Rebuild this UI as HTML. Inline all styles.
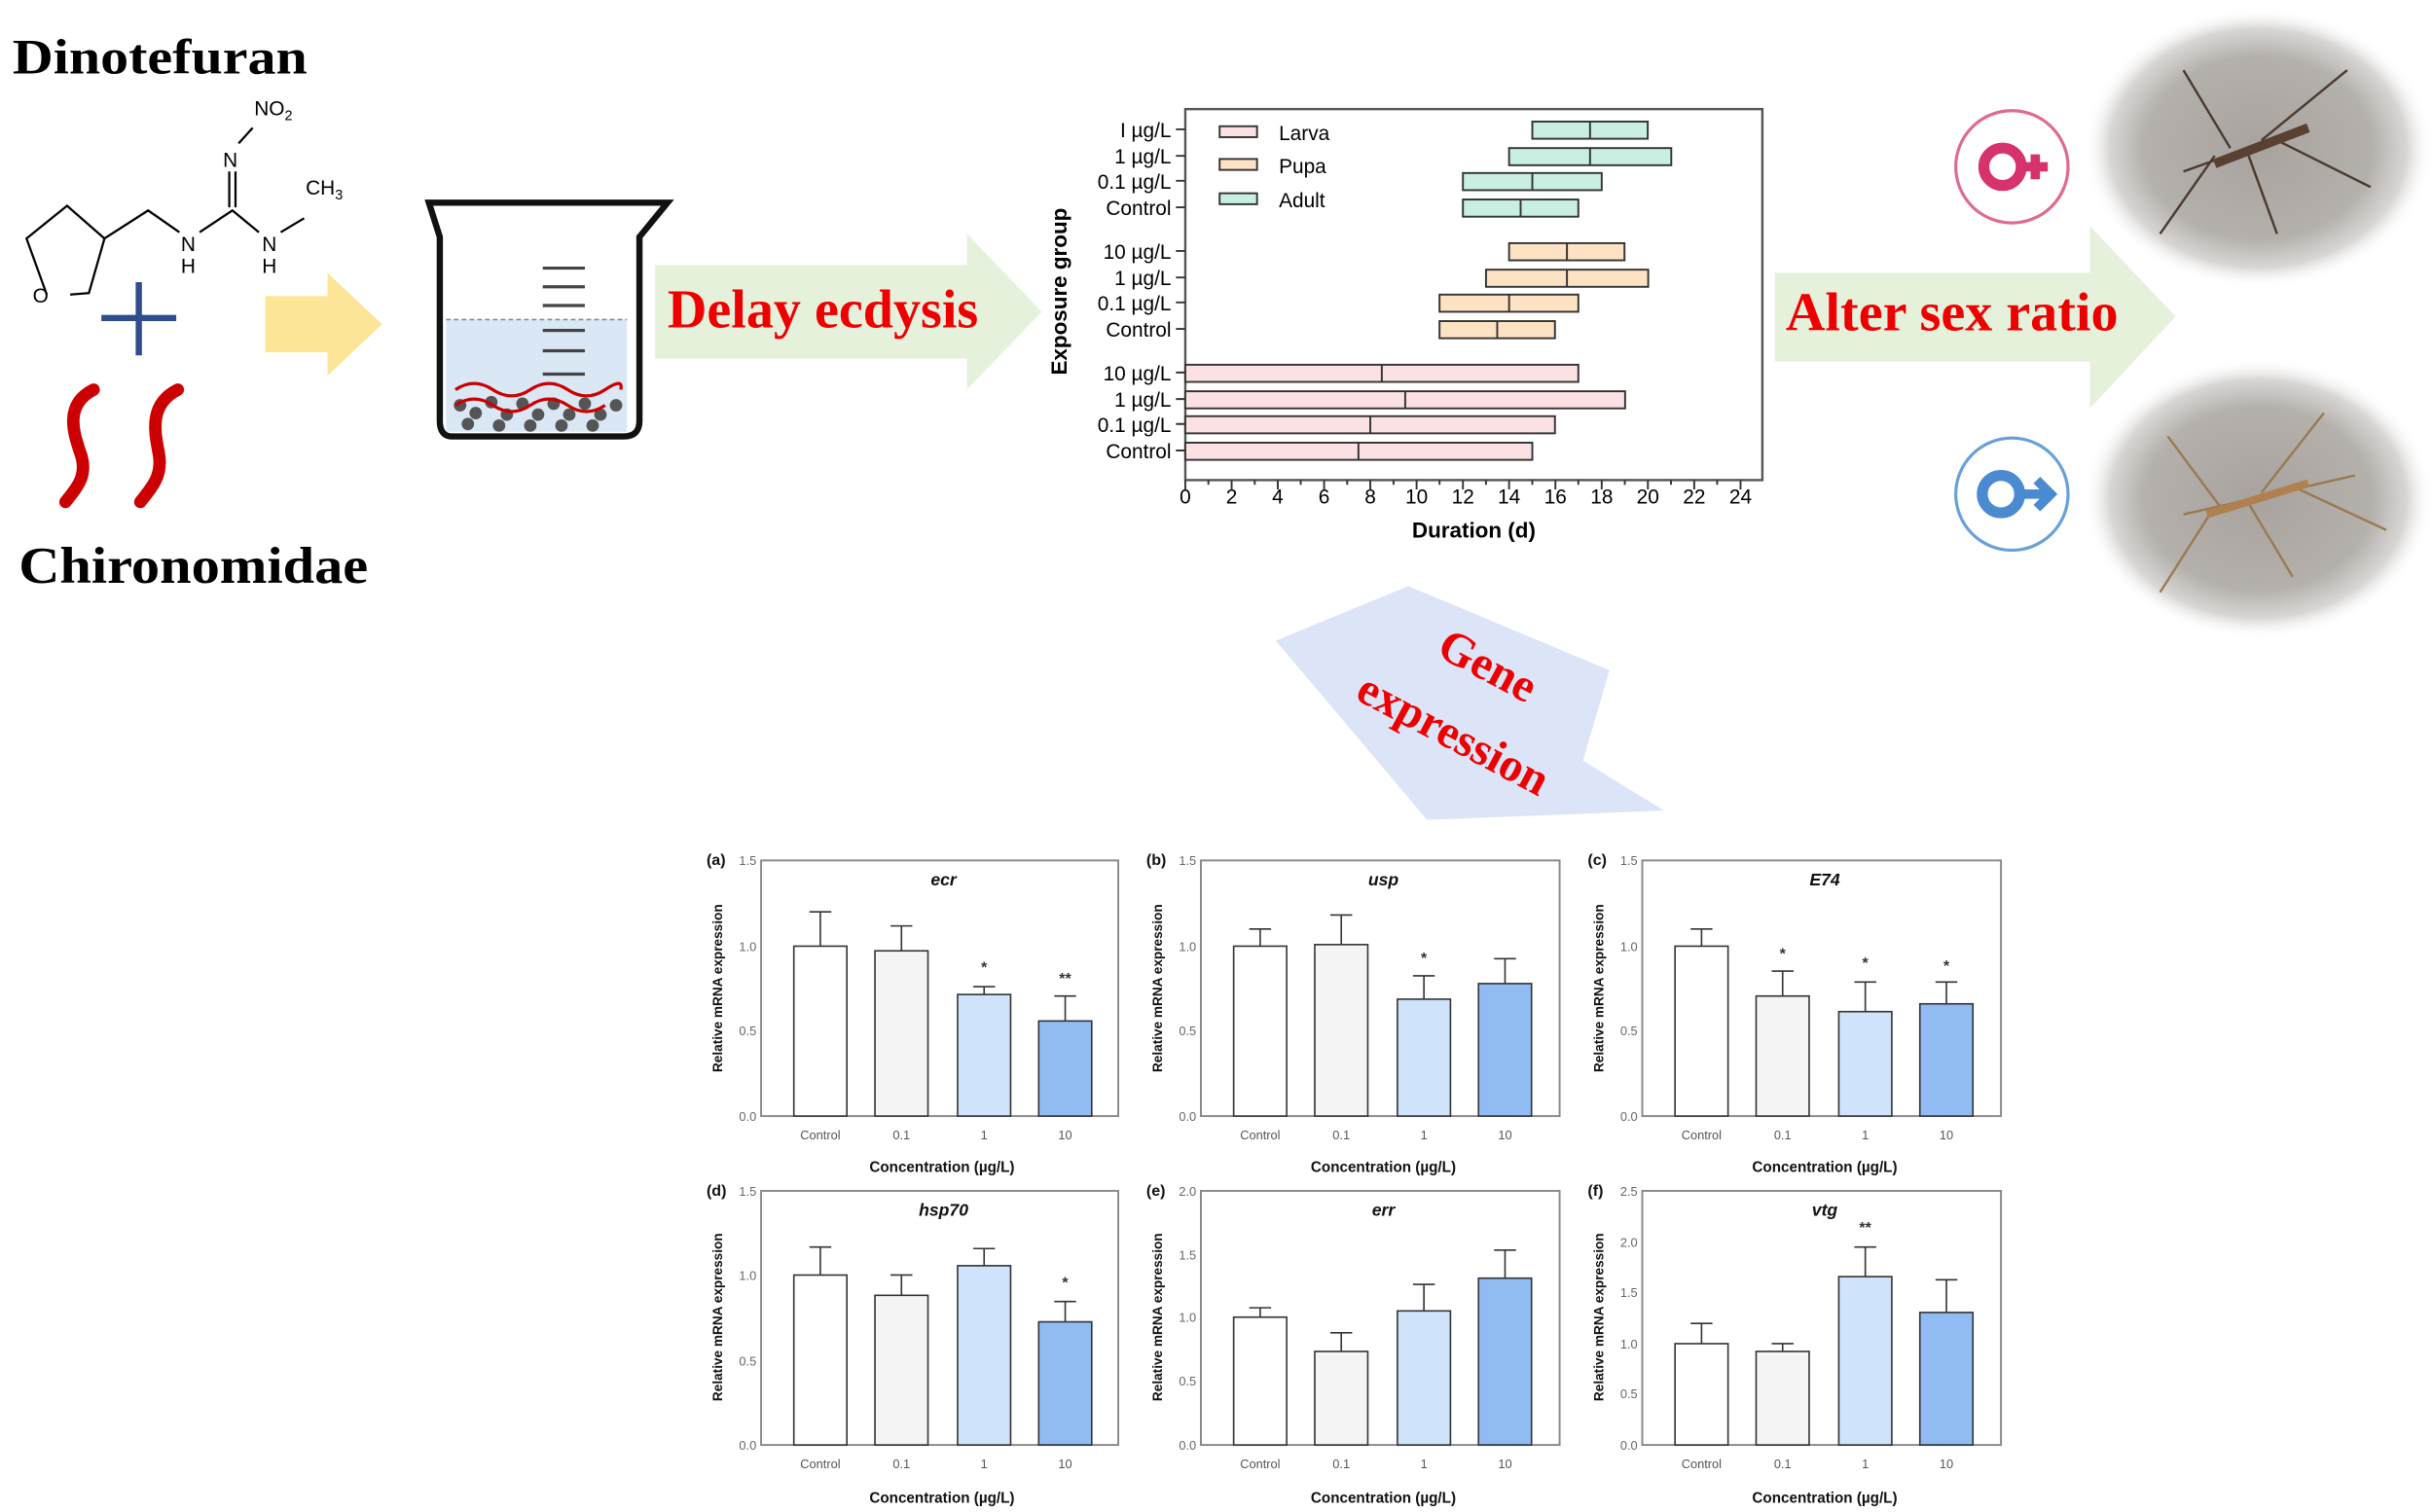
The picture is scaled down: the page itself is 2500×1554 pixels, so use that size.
<!DOCTYPE html>
<html><head><meta charset="utf-8"><style>
html,body{margin:0;padding:0;background:#fff;}
svg{display:block;}
.s{font-family:"Liberation Serif",serif;font-weight:bold;}
.a{font-family:"Liberation Sans",sans-serif;}
</style></head><body>
<svg width="2500" height="1554" viewBox="0 0 1560 970" preserveAspectRatio="none" xmlns="http://www.w3.org/2000/svg">
<defs>
<radialGradient id="ph" cx="50%" cy="50%" r="50%">
<stop offset="0" stop-color="#a8a39e"/><stop offset="0.65" stop-color="#b4b0ac"/><stop offset="0.85" stop-color="#d8d6d4"/><stop offset="1" stop-color="#fff" stop-opacity="0"/>
</radialGradient>
</defs>
<rect width="1560" height="970" fill="#fff"/>
<!-- left -->
<text x="8" y="47" class="s" font-size="32" textLength="189" lengthAdjust="spacingAndGlyphs">Dinotefuran</text>
<g stroke="#000" stroke-width="1.4" fill="none">
<polyline points="30,189 17,153 43,132 67,153 57,188 45,189"/>
<polyline points="67,153 95,135 115,149"/>
<polyline points="128,149 149,135 166,149"/>
<polyline points="147,133 147,110"/>
<polyline points="151,133 151,110"/>
<polyline points="153,92 162,82"/>
<polyline points="180,149 195,140"/>
</g>
<g font-family="Liberation Sans,sans-serif" font-size="13" fill="#000">
<text x="21" y="194">O</text>
<text x="116" y="161">N</text><text x="116" y="175">H</text>
<text x="168" y="161">N</text><text x="168" y="175">H</text>
<text x="143" y="107">N</text>
<text x="163" y="74">NO<tspan font-size="9" dy="3">2</tspan></text>
<text x="196" y="125" dy="0">CH<tspan font-size="9" dy="3">3</tspan></text>
</g>
<path d="M65 204H113M89 181V228" stroke="#2f4d8c" stroke-width="4"/>
<path d="M60 250C40 260 48 280 52 292C56 305 50 312 42 322" stroke="#c00" stroke-width="8" fill="none" stroke-linecap="round"/>
<path d="M114 250C94 260 100 280 102 292C104 305 98 312 90 322" stroke="#c00" stroke-width="8" fill="none" stroke-linecap="round"/>
<text x="12" y="374" class="s" font-size="33" textLength="224" lengthAdjust="spacingAndGlyphs">Chironomidae</text>
<polygon points="170,190 210,190 210,175 245,208 210,241 210,226 170,226" fill="#fde598"/>
<!-- beaker -->
<rect x="286" y="205" width="116" height="72" fill="#dae7f5"/>
<line x1="286" y1="205" x2="402" y2="205" stroke="#889" stroke-dasharray="3,2"/>
<g fill="#555">
<circle cx="295" cy="260" r="4"/><circle cx="305" cy="265" r="4"/><circle cx="315" cy="258" r="4"/><circle cx="325" cy="266" r="4"/><circle cx="335" cy="259" r="4"/><circle cx="345" cy="266" r="4"/><circle cx="355" cy="259" r="4"/><circle cx="365" cy="266" r="4"/><circle cx="375" cy="259" r="4"/><circle cx="385" cy="266" r="4"/><circle cx="395" cy="260" r="4"/>
<circle cx="300" cy="272" r="4"/><circle cx="320" cy="273" r="4"/><circle cx="340" cy="273" r="4"/><circle cx="360" cy="273" r="4"/><circle cx="380" cy="273" r="4"/>
</g>
<path d="M292 250q12-8 24 0t24 0t24 0t24 0t10 0M292 260q12-8 24 0t24 0t24 0t24 0" stroke="#c00" stroke-width="2" fill="none"/>
<path d="M275 130H428L410 152V270Q410 280 400 280H290Q282 280 282 270V152Z" fill="none" stroke="#111" stroke-width="4"/>
<g stroke="#444" stroke-width="2"><path d="M348 172H375M348 184H375M348 196H375M348 212H375M348 225H375M348 240H375"/></g>
<!-- delay arrow -->
<polygon points="420,170 620,170 620,150 668,200 620,250 620,230 420,230" fill="#e6f1dc"/>
<text x="428" y="210" class="s" font-size="35" fill="#e00">Delay ecdysis</text>
<!-- gantt -->
<g class="a" font-size="13">
<rect x="760" y="70" width="370" height="238" fill="#fff" stroke="#555" stroke-width="1.5"/>
<g stroke="#333" stroke-width="1.2">
<rect x="982.5" y="78" width="74" height="11" fill="#c8efe2"/><line x1="1019.5" y1="78" x2="1019.5" y2="89"/>
<rect x="967.6" y="95" width="104" height="11" fill="#c8efe2"/><line x1="1019.5" y1="95" x2="1019.5" y2="106"/>
<rect x="938" y="111" width="89" height="11" fill="#c8efe2"/><line x1="982.5" y1="111" x2="982.5" y2="122"/>
<rect x="938" y="128" width="74" height="11" fill="#c8efe2"/><line x1="975" y1="128" x2="975" y2="139"/>
<rect x="967.6" y="156" width="74" height="11" fill="#fde3c4"/><line x1="1004.7" y1="156" x2="1004.7" y2="167"/>
<rect x="952.8" y="173" width="104" height="11" fill="#fde3c4"/><line x1="1004.7" y1="173" x2="1004.7" y2="184"/>
<rect x="923" y="189" width="89" height="11" fill="#fde3c4"/><line x1="967.6" y1="189" x2="967.6" y2="200"/>
<rect x="923" y="206" width="74" height="11" fill="#fde3c4"/><line x1="960" y1="206" x2="960" y2="217"/>
<rect x="760" y="234" width="252" height="11" fill="#fbe0e4"/><line x1="886" y1="234" x2="886" y2="245"/>
<rect x="760" y="251" width="282" height="11" fill="#fbe0e4"/><line x1="901" y1="251" x2="901" y2="262"/>
<rect x="760" y="267" width="237" height="11" fill="#fbe0e4"/><line x1="878.6" y1="267" x2="878.6" y2="278"/>
<rect x="760" y="284" width="222.5" height="11" fill="#fbe0e4"/><line x1="871" y1="284" x2="871" y2="295"/>
<rect x="782" y="81" width="24" height="7" fill="#fbe0e4"/>
<rect x="782" y="102" width="24" height="7" fill="#fde3c4"/>
<rect x="782" y="124" width="24" height="7" fill="#c8efe2"/>
<path d="M754 83H760M754 100H760M754 116H760M754 133H760M754 161H760M754 178H760M754 194H760M754 211H760M754 239H760M754 256H760M754 272H760M754 289H760"/>
<path d="M760 308v6M789.7 308v6M819.3 308v6M849 308v6M878.6 308v6M908.3 308v6M938 308v6M967.6 308v6M997.3 308v6M1027 308v6M1056.6 308v6M1086.3 308v6M1116 308v6M774.8 308v3M804.5 308v3M834 308v3M863.8 308v3M893.5 308v3M923 308v3M952.8 308v3M982.5 308v3M1012 308v3M1041.8 308v3M1071.4 308v3M1101 308v3"/>
</g>
<text x="820" y="90">Larva</text><text x="820" y="111">Pupa</text><text x="820" y="133">Adult</text>
<g text-anchor="end">
<text x="751" y="88">I µg/L</text><text x="751" y="105">1 µg/L</text><text x="751" y="121">0.1 µg/L</text><text x="751" y="138">Control</text>
<text x="751" y="166">10 µg/L</text><text x="751" y="183">1 µg/L</text><text x="751" y="199">0.1 µg/L</text><text x="751" y="216">Control</text>
<text x="751" y="244">10 µg/L</text><text x="751" y="261">1 µg/L</text><text x="751" y="277">0.1 µg/L</text><text x="751" y="294">Control</text>
</g>
<g text-anchor="middle">
<text x="760" y="323">0</text><text x="789.7" y="323">2</text><text x="819.3" y="323">4</text><text x="849" y="323">6</text><text x="878.6" y="323">8</text><text x="908.3" y="323">10</text><text x="938" y="323">12</text><text x="967.6" y="323">14</text><text x="997.3" y="323">16</text><text x="1027" y="323">18</text><text x="1056.6" y="323">20</text><text x="1086.3" y="323">22</text><text x="1116" y="323">24</text>
<text x="945" y="345" font-weight="bold" font-size="14">Duration (d)</text>
<text transform="translate(684,187) rotate(-90)" font-weight="bold" font-size="14">Exposure group</text>
</g>
</g>
<!-- sex ratio arrow -->
<polygon points="1138,175 1340,175 1340,145 1395,203 1340,262 1340,232 1138,232" fill="#e6f1dc"/>
<text x="1145" y="212" class="s" font-size="35" fill="#e00">Alter sex ratio</text>
<circle cx="1290" cy="107" r="36" fill="#fff" stroke="#e06b8c" stroke-width="2"/>
<circle cx="1284" cy="107" r="12" fill="none" stroke="#d6336c" stroke-width="7"/>
<path d="M1297 107h16M1305 99v16" stroke="#d6336c" stroke-width="6"/>
<circle cx="1290" cy="317" r="36" fill="#fff" stroke="#6aa0d8" stroke-width="2"/>
<circle cx="1283" cy="317" r="12" fill="none" stroke="#4a8ad0" stroke-width="7"/>
<path d="M1296 317h18M1306 308l9 9l-9 9" stroke="#4a8ad0" stroke-width="6" fill="none"/>
<ellipse cx="1448" cy="95" rx="112" ry="90" fill="url(#ph)"/>
<ellipse cx="1448" cy="320" rx="112" ry="90" fill="url(#ph)"/>
<path d="M1400 110L1470 85M1420 100L1385 150M1440 95L1460 150M1450 90L1505 45M1430 95L1400 45M1460 90L1520 120" stroke="#4a3a30" stroke-width="1.5" fill="none"/>
<path d="M1400 330L1510 305M1420 325L1385 380M1440 320L1470 370M1450 316L1490 265M1425 327L1390 280M1470 312L1530 340" stroke="#9a7a50" stroke-width="1.5" fill="none"/>
<path d="M1420 105L1480 82" stroke="#5a4030" stroke-width="6"/>
<path d="M1415 330L1480 310" stroke="#b08050" stroke-width="5"/>
<!-- gene expression arrow -->
<polygon points="818,411 903,376 1032,430 1015,488 1067,520 915,526" fill="#dbe5f7"/>
<text transform="translate(920,420) rotate(28)" class="s" font-size="30" fill="#e00">Gene</text>
<text transform="translate(868,448) rotate(28)" class="s" font-size="30" fill="#e00">expression</text>
<!-- bar charts -->
<g class="a" font-size="8" fill="#333">
<g stroke="#888" stroke-width="1.2" fill="none">
<rect x="488" y="552" width="229" height="164"/><rect x="770" y="552" width="230" height="164"/><rect x="1053" y="552" width="230" height="164"/>
<rect x="488" y="764" width="229" height="163"/><rect x="770" y="764" width="230" height="163"/><rect x="1053" y="764" width="230" height="163"/>
</g>
<g stroke="#333" stroke-width="1">
<rect x="509" y="607" width="34" height="109" fill="#fff"/><rect x="561" y="610" width="34" height="106" fill="#f4f4f4"/><rect x="614" y="638" width="34" height="78" fill="#cfe3fa"/><rect x="666" y="655" width="34" height="61" fill="#90bcf3"/>
<path d="M526 607V585M519 585H533M578 610V594M571 594H585M631 638V633M624 633H638M683 655V639M676 639H690"/>
<rect x="791" y="607" width="34" height="109" fill="#fff"/><rect x="843" y="606" width="34" height="110" fill="#f4f4f4"/><rect x="896" y="641" width="34" height="75" fill="#cfe3fa"/><rect x="948" y="631" width="34" height="85" fill="#90bcf3"/>
<path d="M808 607V596M801 596H815M860 606V587M853 587H867M913 641V626M906 626H920M965 631V615M958 615H972"/>
<rect x="1074" y="607" width="34" height="109" fill="#fff"/><rect x="1126" y="639" width="34" height="77" fill="#f4f4f4"/><rect x="1179" y="649" width="34" height="67" fill="#cfe3fa"/><rect x="1231" y="644" width="34" height="72" fill="#90bcf3"/>
<path d="M1091 607V596M1084 596H1098M1143 639V623M1136 623H1150M1196 649V630M1189 630H1203M1248 644V630M1241 630H1255"/>
<rect x="509" y="818" width="34" height="109" fill="#fff"/><rect x="561" y="831" width="34" height="96" fill="#f4f4f4"/><rect x="614" y="812" width="34" height="115" fill="#cfe3fa"/><rect x="666" y="848" width="34" height="79" fill="#90bcf3"/>
<path d="M526 818V800M519 800H533M578 831V818M571 818H585M631 812V801M624 801H638M683 848V835M676 835H690"/>
<rect x="791" y="845" width="34" height="82" fill="#fff"/><rect x="843" y="867" width="34" height="60" fill="#f4f4f4"/><rect x="896" y="841" width="34" height="86" fill="#cfe3fa"/><rect x="948" y="820" width="34" height="107" fill="#90bcf3"/>
<path d="M808 845V839M801 839H815M860 867V855M853 855H867M913 841V824M906 824H920M965 820V802M958 802H972"/>
<rect x="1074" y="862" width="34" height="65" fill="#fff"/><rect x="1126" y="867" width="34" height="60" fill="#f4f4f4"/><rect x="1179" y="819" width="34" height="108" fill="#cfe3fa"/><rect x="1231" y="842" width="34" height="85" fill="#90bcf3"/>
<path d="M1091 862V849M1084 849H1098M1143 867V862M1136 862H1150M1196 819V800M1189 800H1203M1248 842V821M1241 821H1255"/>
</g>
<g font-size="10" font-weight="bold" text-anchor="middle">
<text x="631" y="624">*</text><text x="683" y="631">**</text><text x="913" y="618">*</text>
<text x="1143" y="615">*</text><text x="1196" y="621">*</text><text x="1248" y="623">*</text>
<text x="683" y="826">*</text><text x="1196" y="791">**</text>
</g>
<g text-anchor="end" font-size="8" fill="#666">
<text x="485" y="555">1.5</text><text x="485" y="610">1.0</text><text x="485" y="664">0.5</text><text x="485" y="719">0.0</text>
<text x="767" y="555">1.5</text><text x="767" y="610">1.0</text><text x="767" y="664">0.5</text><text x="767" y="719">0.0</text>
<text x="1050" y="555">1.5</text><text x="1050" y="610">1.0</text><text x="1050" y="664">0.5</text><text x="1050" y="719">0.0</text>
<text x="485" y="767">1.5</text><text x="485" y="821">1.0</text><text x="485" y="876">0.5</text><text x="485" y="930">0.0</text>
<text x="767" y="767">2.0</text><text x="767" y="808">1.5</text><text x="767" y="848">1.0</text><text x="767" y="889">0.5</text><text x="767" y="930">0.0</text>
<text x="1050" y="767">2.5</text><text x="1050" y="800">2.0</text><text x="1050" y="832">1.5</text><text x="1050" y="865">1.0</text><text x="1050" y="897">0.5</text><text x="1050" y="930">0.0</text>
</g>
<g font-size="10" font-weight="bold" fill="#111">
<text x="453" y="555">(a)</text><text x="735" y="555">(b)</text><text x="1018" y="555">(c)</text>
<text x="453" y="767">(d)</text><text x="735" y="767">(e)</text><text x="1018" y="767">(f)</text>
</g>
<g font-size="11" font-weight="bold" font-style="italic" text-anchor="middle" fill="#111">
<text x="605" y="568">ecr</text><text x="887" y="568">usp</text><text x="1170" y="568">E74</text>
<text x="605" y="780">hsp70</text><text x="887" y="780">err</text><text x="1170" y="780">vtg</text>
</g>
<g text-anchor="middle" font-size="8" fill="#555">
<text x="526" y="731">Control</text><text x="578" y="731">0.1</text><text x="631" y="731">1</text><text x="683" y="731">10</text>
<text x="808" y="731">Control</text><text x="860" y="731">0.1</text><text x="913" y="731">1</text><text x="965" y="731">10</text>
<text x="1091" y="731">Control</text><text x="1143" y="731">0.1</text><text x="1196" y="731">1</text><text x="1248" y="731">10</text>
<text x="526" y="942">Control</text><text x="578" y="942">0.1</text><text x="631" y="942">1</text><text x="683" y="942">10</text>
<text x="808" y="942">Control</text><text x="860" y="942">0.1</text><text x="913" y="942">1</text><text x="965" y="942">10</text>
<text x="1091" y="942">Control</text><text x="1143" y="942">0.1</text><text x="1196" y="942">1</text><text x="1248" y="942">10</text>
</g>
<g text-anchor="middle" font-size="9.5" font-weight="bold" fill="#111">
<text x="604" y="752">Concentration (µg/L)</text><text x="887" y="752">Concentration (µg/L)</text><text x="1170" y="752">Concentration (µg/L)</text>
<text x="604" y="964">Concentration (µg/L)</text><text x="887" y="964">Concentration (µg/L)</text><text x="1170" y="964">Concentration (µg/L)</text>
<text transform="translate(463,634) rotate(-90)" font-size="8.5">Relative mRNA expression</text>
<text transform="translate(745,634) rotate(-90)" font-size="8.5">Relative mRNA expression</text>
<text transform="translate(1028,634) rotate(-90)" font-size="8.5">Relative mRNA expression</text>
<text transform="translate(463,845) rotate(-90)" font-size="8.5">Relative mRNA expression</text>
<text transform="translate(745,845) rotate(-90)" font-size="8.5">Relative mRNA expression</text>
<text transform="translate(1028,845) rotate(-90)" font-size="8.5">Relative mRNA expression</text>
</g>
</g>
</svg>
</body></html>
